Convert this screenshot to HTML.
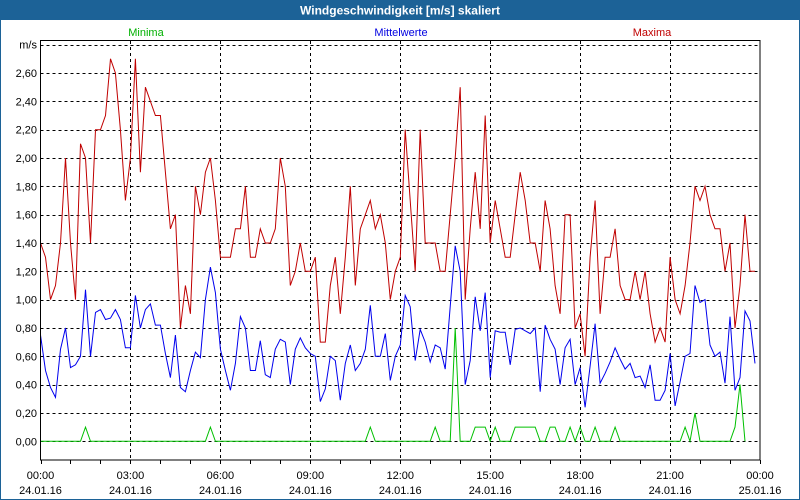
<!DOCTYPE html>
<html><head><meta charset="utf-8"><style>
html,body{margin:0;padding:0;background:#fff;}
svg{display:block;font-family:"Liberation Sans",sans-serif;}
</style></head><body>
<svg id="chart" width="800" height="500" viewBox="0 0 800 500">
<rect x="0" y="0" width="800" height="500" fill="#fff"/>
<rect x="0.5" y="0.5" width="799" height="499" fill="none" stroke="#1c6297"/>
<rect x="0" y="0" width="800" height="20" fill="#1c6297"/>
<text x="400" y="14.5" text-anchor="middle" fill="#fff" font-size="12" font-weight="bold">Windgeschwindigkeit [m/s] skaliert</text>
<text x="146" y="36" text-anchor="middle" fill="#00b000" font-size="11">Minima</text>
<text x="401" y="36" text-anchor="middle" fill="#0000e0" font-size="11">Mittelwerte</text>
<text x="652" y="36" text-anchor="middle" fill="#c00000" font-size="11">Maxima</text>
<g id="grid"></g>
<g id="series"></g>
<g id="axes"></g>
</svg>
<script>
const maxima=[1.40,1.30,1.00,1.10,1.40,2.00,1.40,1.00,2.10,2.00,1.40,2.20,2.20,2.30,2.70,2.60,2.20,1.70,2.00,2.70,1.90,2.50,2.40,2.30,2.30,1.90,1.50,1.60,0.80,1.10,0.90,1.80,1.60,1.90,2.00,1.70,1.30,1.30,1.30,1.50,1.50,1.80,1.30,1.30,1.50,1.40,
1.40,1.50,2.00,1.80,1.10,1.20,1.40,1.20,1.20,1.30,0.70,0.70,1.10,1.30,0.90,1.30,1.80,1.10,1.50,1.60,1.70,1.50,1.60,1.40,1.00,1.20,1.30,2.20,1.70,1.20,2.20,1.40,1.40,1.40,1.20,1.20,1.60,2.00,2.50,1.00,1.50,1.90,1.50,2.30,1.40,1.70,1.50,1.30,1.30,1.60,1.90,1.70,
1.40,1.40,1.20,1.70,1.50,1.10,0.90,1.60,1.60,0.80,0.90,0.60,1.30,1.70,0.90,1.30,1.30,1.50,1.10,1.00,1.00,1.20,1.00,1.20,0.90,0.70,0.80,0.70,1.30,1.00,0.90,1.10,1.40,1.80,1.70,1.80,1.60,1.50,1.50,1.20,1.40,0.80,1.10,1.60,1.20,1.20];
const mittel=[0.75,0.50,0.38,0.31,0.65,0.80,0.52,0.54,0.60,1.07,0.60,0.91,0.93,0.86,0.87,0.93,0.86,0.66,0.66,1.03,0.80,0.93,0.97,0.82,0.82,0.62,0.45,0.75,0.38,0.35,0.50,0.63,0.59,1.00,1.23,1.05,0.65,0.50,0.36,0.55,0.88,0.80,0.50,0.50,0.71,0.47,
0.45,0.65,0.72,0.70,0.40,0.65,0.73,0.66,0.62,0.60,0.28,0.37,0.60,0.57,0.29,0.55,0.68,0.50,0.55,0.65,0.96,0.60,0.60,0.76,0.43,0.60,0.68,1.03,0.95,0.57,0.79,0.70,0.56,0.68,0.66,0.51,0.95,1.38,1.20,0.40,0.57,1.02,0.78,1.05,0.45,0.78,0.77,0.77,0.54,0.79,0.80,0.78,
0.76,0.80,0.35,0.82,0.72,0.65,0.40,0.66,0.72,0.40,0.52,0.24,0.53,0.83,0.41,0.48,0.56,0.66,0.58,0.51,0.55,0.45,0.46,0.38,0.54,0.29,0.29,0.36,0.62,0.25,0.42,0.60,0.62,1.10,0.98,1.00,0.68,0.60,0.63,0.41,0.88,0.36,0.45,0.92,0.85,0.55];
const minima=[0,0,0,0,0,0,0,0,0,0.1,0,0,0,0,0,0,0,0,0,0,0,0,0,0,0,0,0,0,0,0,0,0,0,0,0.1,0,0,0,0,0,0,0,0,0,0,0,
0,0,0,0,0,0,0,0,0,0,0,0,0,0,0,0,0,0,0,0,0.1,0,0,0,0,0,0,0,0,0,0,0,0,0.1,0,0,0,0.8,0,0,0,0.1,0.1,0.1,0,0.1,0,0,0,0.1,0.1,0.1,
0.1,0.1,0,0,0.1,0.1,0,0,0.1,0,0.1,0,0,0.1,0,0,0,0.1,0,0,0,0,0,0,0,0,0,0,0,0,0,0.1,0,0.2,0,0,0,0,0,0,0,0.1,0.4,0];
const yTicks=["0,00","0,20","0,40","0,60","0,80","1,00","1,20","1,40","1,60","1,80","2,00","2,20","2,40","2,60"];
const xTimes=["00:00","03:00","06:00","09:00","12:00","15:00","18:00","21:00","00:00"];
const xDates=["24.01.16","24.01.16","24.01.16","24.01.16","24.01.16","24.01.16","24.01.16","24.01.16","25.01.16"];
const stepMinutes=10;

const X0=40.5,X1=760,YTOP=41,YBOT=460,Y0=441.3,PXPER=141.65;
const xScale=m=>X0+(X1-X0)*m/1440;
const yScale=v=>Y0-v*PXPER;
const NS="http://www.w3.org/2000/svg";
function mk(tag,attrs,parent){const e=document.createElementNS(NS,tag);for(const k in attrs)e.setAttribute(k,attrs[k]);parent.appendChild(e);return e;}
const grid=document.getElementById('grid'),ser=document.getElementById('series'),ax=document.getElementById('axes');
// horizontal grid
for(let i=0;i<=14;i++){
  const y=Math.round(yScale(i*0.2))+0.5;
  const l=mk('line',{x1:X0,x2:X1,y1:y,y2:y,stroke:'#000','stroke-dasharray':'3,3'},grid);
  
  
}
for(let i=1;i<8;i++){
  const x=Math.round(xScale(i*180))+0.5;
  const l=mk('line',{x1:x,x2:x,y1:YTOP,y2:YBOT,stroke:'#000','stroke-dasharray':'3,3'},grid);
  
  
}
function line(data,color,name){
  const pts=data.map((v,i)=>xScale(i*stepMinutes).toFixed(1)+','+yScale(v).toFixed(1)).join(' ');
  const p=mk('polyline',{points:pts,fill:'none',stroke:color,'stroke-width':1},ser);
  
  
}
line(minima,'#00c000','minima-line');
line(maxima,'#c00000','maxima-line');
line(mittel,'#0000ee','mittelwerte-line');
// frame
const fr=mk('rect',{x:40.5,y:40.5,width:719.5,height:419.5,fill:'none',stroke:'#000'},ax);


yTicks.forEach((t,i)=>{
  const tx=mk('text',{x:37,y:yScale(i*0.2)+4,'text-anchor':'end','font-size':11,fill:'#000'},ax);
  tx.textContent=t;
  
  
});
const unit=mk('text',{x:37,y:yScale(2.8)+4,'text-anchor':'end','font-size':11,fill:'#000'},ax);
unit.textContent='m/s';


for(let h=0;h<=24;h++){
  const x=Math.round(xScale(h*60))+0.5;
  const t=mk('line',{x1:x,x2:x,y1:YBOT,y2:YBOT+4,stroke:'#000'},ax);
  
  
}
xTimes.forEach((t,i)=>{
  const x=xScale(i*180);
  const a=mk('text',{x:x,y:479,'text-anchor':'middle','font-size':11,fill:'#000'},ax);
  a.textContent=t;
  
  
  const b=mk('text',{x:x,y:494,'text-anchor':'middle','font-size':11,fill:'#000'},ax);
  b.textContent=xDates[i];
  
  
});
</script>
</body></html>
